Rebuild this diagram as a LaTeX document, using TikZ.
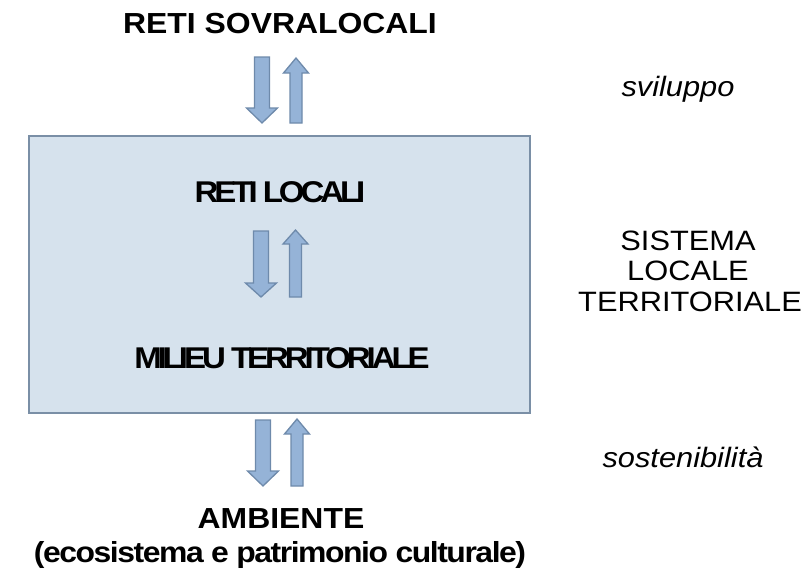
\documentclass[tikz,border=0pt]{standalone}
\usepackage{fontspec}
\setmainfont[FakeStretch=1.1]{Liberation Sans}
\newfontfamily\tightfont[FakeStretch=1.1,LetterSpace=-13.5]{Liberation Sans}
\newfontfamily\ecofont[FakeStretch=1.1,LetterSpace=-5]{Liberation Sans}
\definecolor{boxfill}{HTML}{D6E2ED}
\definecolor{boxline}{HTML}{7A8FA6}
\definecolor{arrfill}{HTML}{95B3D7}
\definecolor{arrline}{HTML}{6E8AAB}
\newcommand\blockdown[4]{% cx, ytop, ytip, headlen
  \draw[blockarrow] (#1-7.5,#2) -- (#1+7.5,#2) -- (#1+7.5,#3-#4) -- (#1+15.5,#3-#4) -- (#1,#3)
    -- (#1-15.5,#3-#4) -- (#1-7.5,#3-#4) -- cycle;}
\newcommand\blockup[4]{% cx, ybottom, ytip, headlen
  \draw[blockarrow] (#1-6,#2) -- (#1+6,#2) -- (#1+6,#3+#4) -- (#1+12.5,#3+#4) -- (#1,#3)
    -- (#1-12.5,#3+#4) -- (#1-6,#3+#4) -- cycle;}
\begin{document}
\begin{tikzpicture}[x=1pt,y=-1pt,
  title/.style={font=\fontsize{29}{34}\selectfont\bfseries, anchor=base, inner sep=0},
  inner/.style={font=\tightfont\fontsize{30}{34}\selectfont\bfseries, anchor=base, inner sep=0},
  side/.style={font=\fontsize{28}{31}\selectfont, anchor=base, inner sep=0},
  note/.style={font=\fontsize{28}{31}\selectfont\itshape, anchor=base, inner sep=0},
  blockarrow/.style={fill=arrfill, draw=arrline, line width=1.3pt, line join=miter}]
\useasboundingbox (0,0) rectangle (804,571);
% main box
\draw[fill=boxfill, draw=boxline, line width=2.2pt] (29,136) rectangle (530,413);
% texts
\node[title] (sovra) at (280,33) {RETI SOVRALOCALI};
\node[inner] (locali) at (280,202) {RETI LOCALI};
\node[inner] (milieu) at (282,368) {MILIEU TERRITORIALE};
\node[title] (amb) at (281,528) {AMBIENTE};
\node[title, font=\ecofont\fontsize{29}{34}\selectfont\bfseries] (eco) at (280,562) {(ecosistema e patrimonio culturale)};
\node[note] (svil) at (678,96) {sviluppo};
\node[side] (sis1) at (688,250) {SISTEMA};
\node[side] (sis2) at (688,280) {LOCALE};
\node[side] (sis3) at (690,311) {TERRITORIALE};
\node[note] (sost) at (683,467) {sostenibilità};
% arrows
\blockdown{262}{57}{123}{15}
\blockup{296}{123}{58}{15}
\blockdown{261}{231}{297}{14}
\blockup{295.5}{297}{230}{14}
\blockdown{263}{420}{486}{15}
\blockup{297}{486}{419}{15}
\end{tikzpicture}
\end{document}
